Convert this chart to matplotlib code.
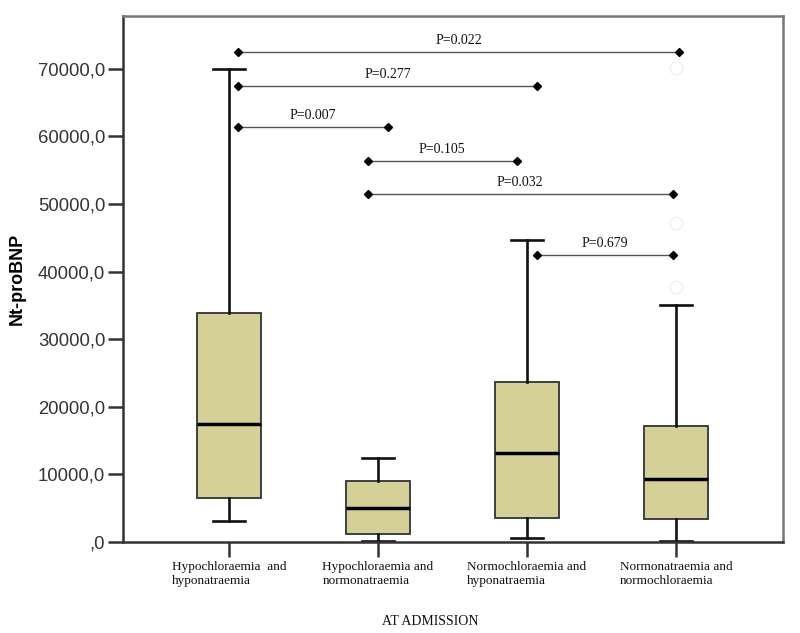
"""Nt-proBNP at admission by sodium / chloride status, SPSS style box plot."""

import matplotlib
matplotlib.use('Agg')
import matplotlib.pyplot as plt

# Group labels
groups = ['Hypochloraemia  and\nhyponatraemia',
          'Hypochloraemia and\nnormonatraemia',
          'Normochloraemia and\nhyponatraemia',
          'Normonatraemia and\nnormochloraemia']

# Box statistics
whislo = [3100, 150, 600, 150]
q1 = [6500, 1200, 3550, 3400]
med = [17450, 5000, 13150, 9300]
q3 = [33900, 9000, 23700, 17150]
whishi = [70000, 12400, 44700, 35050]
fliers = [[], [], [], [70100, 47200, 37700]]

# Pairwise comparisons: (from group, to group, level, label)
pair_from = [1, 1, 1, 2, 2, 3]
pair_to = [4, 3, 2, 3, 4, 4]
pair_y = [72500, 67450, 61400, 56400, 51500, 42500]
pair_p = ['P=0.022', 'P=0.277', 'P=0.007', 'P=0.105', 'P=0.032', 'P=0.679']

yticks = [0, 10000, 20000, 30000, 40000, 50000, 60000, 70000]
ytick_labels = [',0', '10000,0', '20000,0', '30000,0', '40000,0',
                '50000,0', '60000,0', '70000,0']


def bracket_ends(a, b):
    # brackets sit just beside the whiskers, not on the box centres
    x0 = a + 0.06 if a == 1 else (a - 0.07 if a == 2 else a + 0.07)
    if b == 4:
        x1 = b + 0.02 if a == 1 else b - 0.02
    elif a == 2:
        x1 = b - 0.07
    else:
        x1 = b + 0.07
    return x0, x1


def main():
    fig = plt.figure(figsize=(8, 6.33), dpi=100)
    ax = fig.add_axes([0.154, 0.1438, 0.825, 0.831])

    positions = list(range(1, len(groups) + 1))
    stats = []
    for i in range(len(groups)):
        stats.append({'whislo': whislo[i], 'q1': q1[i], 'med': med[i],
                      'q3': q3[i], 'whishi': whishi[i], 'fliers': fliers[i]})

    ax.bxp(stats, positions=positions, widths=0.43, capwidths=0.215,
           patch_artist=True,
           boxprops=dict(facecolor='#d4d097', edgecolor='#333333', linewidth=1.3),
           medianprops=dict(color='black', linewidth=2.5),
           whiskerprops=dict(color='#111111', linewidth=1.9),
           capprops=dict(color='#111111', linewidth=1.9),
           flierprops=dict(marker='o', markersize=9, markerfacecolor='none',
                           markeredgecolor='#f0f0f0', markeredgewidth=1))

    # significance brackets
    for a, b, y, p in zip(pair_from, pair_to, pair_y, pair_p):
        x0, x1 = bracket_ends(a, b)
        ax.plot([x0, x1], [y, y], color='#555555', linewidth=1)
        ax.plot([x0, x1], [y, y], linestyle='none', marker='D', markersize=4,
                color='black')
        ax.text((x0 + x1) / 2, y + 700, p, ha='center', va='bottom',
                fontsize=10, family='Liberation Serif', color='#111111')

    ax.set_xlim(0.29, 4.72)
    ax.set_ylim(0, 77800)
    ax.set_xticks(positions)
    ax.set_xticklabels(groups, family='Liberation Serif', fontsize=9.5,
                       multialignment='left', color='#111111')
    ax.set_yticks(yticks)
    ax.set_yticklabels(ytick_labels, family='Liberation Sans', fontsize=13.3,
                       color='#333333')
    ax.tick_params(axis='x', length=11, width=1.8, color='#333333', pad=3)
    ax.tick_params(axis='y', length=11, width=1.8, color='#333333', pad=2)

    for side in ['left', 'bottom']:
        ax.spines[side].set_color('#333333')
        ax.spines[side].set_linewidth(1.8)
    for side in ['top', 'right']:
        ax.spines[side].set_color('#777777')
        ax.spines[side].set_linewidth(1.8)

    ax.set_ylabel('Nt-proBNP', family='Liberation Sans', fontsize=13,
                  fontweight='bold', color='black')
    ax.yaxis.set_label_coords(-0.147, 0.5)
    ax.set_xlabel('AT ADMISSION', family='Liberation Serif', fontsize=10,
                  color='#111111')
    ax.xaxis.set_label_coords((430 - 123) / 660, -0.138)

    fig.savefig('out.png', dpi=100)


if __name__ == '__main__':
    main()
